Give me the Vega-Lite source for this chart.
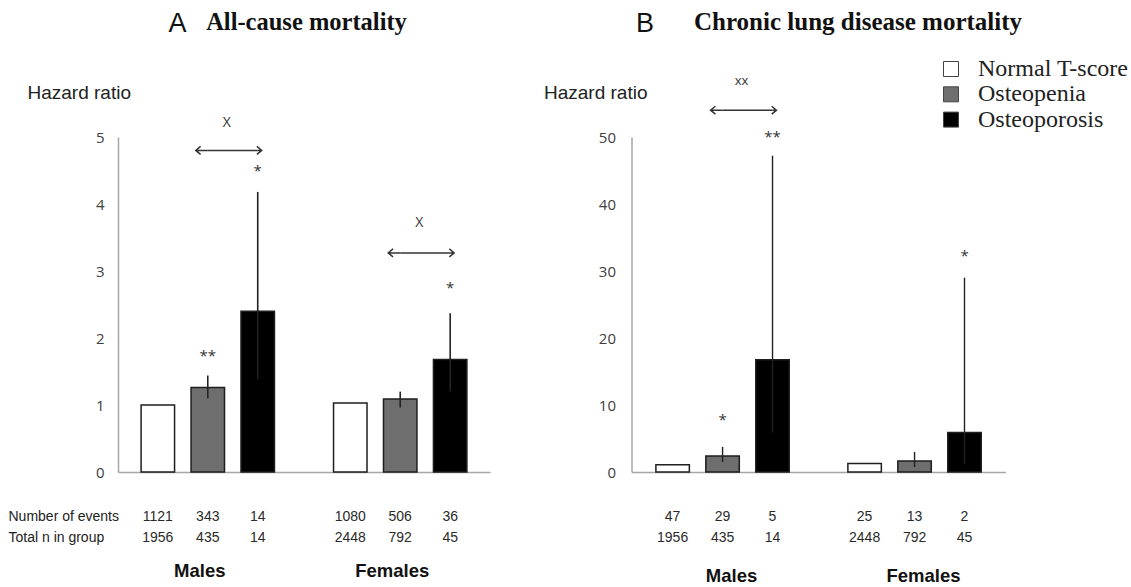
{
  "$schema": "https://vega.github.io/schema/vega-lite/v6.json",
  "padding": {"left": 8, "top": 9, "right": 0, "bottom": 0},
  "background": "#ffffff",
  "columns": 2,
  "align": "each",
  "bounds": "full",
  "spacing": {"row": 26, "column": 53.5},
  "datasets": {
    "bars": [
      {"panel": "A", "sex": "Males", "group": "Normal T-score", "hr": 1.0, "lo": 1.0, "hi": 1.0},
      {"panel": "A", "sex": "Males", "group": "Osteopenia", "hr": 1.26, "lo": 1.1, "hi": 1.44},
      {"panel": "A", "sex": "Males", "group": "Osteoporosis", "hr": 2.4, "lo": 1.38, "hi": 4.18},
      {"panel": "A", "sex": "Females", "group": "Normal T-score", "hr": 1.03, "lo": 1.03, "hi": 1.03},
      {"panel": "A", "sex": "Females", "group": "Osteopenia", "hr": 1.09, "lo": 0.96, "hi": 1.2},
      {"panel": "A", "sex": "Females", "group": "Osteoporosis", "hr": 1.68, "lo": 1.2, "hi": 2.37},
      {"panel": "B", "sex": "Males", "group": "Normal T-score", "hr": 1.1, "lo": 1.1, "hi": 1.1},
      {"panel": "B", "sex": "Males", "group": "Osteopenia", "hr": 2.4, "lo": 1.5, "hi": 3.75},
      {"panel": "B", "sex": "Males", "group": "Osteoporosis", "hr": 16.75, "lo": 5.9, "hi": 47.2},
      {"panel": "B", "sex": "Females", "group": "Normal T-score", "hr": 1.26, "lo": 1.26, "hi": 1.26},
      {"panel": "B", "sex": "Females", "group": "Osteopenia", "hr": 1.65, "lo": 0.75, "hi": 3.0},
      {"panel": "B", "sex": "Females", "group": "Osteoporosis", "hr": 5.9, "lo": 1.2, "hi": 29.0}
    ],
    "stars": [
      {"panel": "A", "sex": "Males", "group": "Osteopenia", "y": 1.77, "label": "**"},
      {"panel": "A", "sex": "Males", "group": "Osteoporosis", "y": 4.54, "label": "*"},
      {"panel": "A", "sex": "Females", "group": "Osteoporosis", "y": 2.79, "label": "*"},
      {"panel": "B", "sex": "Males", "group": "Osteopenia", "y": 8.15, "label": "*"},
      {"panel": "B", "sex": "Males", "group": "Osteoporosis", "y": 50.45, "label": "**"},
      {"panel": "B", "sex": "Females", "group": "Osteoporosis", "y": 32.75, "label": "*"}
    ],
    "arrows": [
      {"panel": "A", "sex": "Males", "group": "Osteopenia", "y": 4.8, "end": "left"},
      {"panel": "A", "sex": "Males", "group": "Osteoporosis", "y": 4.8, "end": "right"},
      {"panel": "A", "sex": "Females", "group": "Osteopenia", "y": 3.27, "end": "left"},
      {"panel": "A", "sex": "Females", "group": "Osteoporosis", "y": 3.27, "end": "right"},
      {"panel": "B", "sex": "Males", "group": "Osteopenia", "y": 54.0, "end": "left"},
      {"panel": "B", "sex": "Males", "group": "Osteoporosis", "y": 54.0, "end": "right"}
    ],
    "cmp": [
      {"panel": "A", "sex": "Males", "group": "Osteopenia", "y": 5.21, "label": "X"},
      {"panel": "A", "sex": "Females", "group": "Osteopenia", "y": 3.71, "label": "X"},
      {"panel": "B", "sex": "Males", "group": "Osteopenia", "y": 58.3, "label": "xx"}
    ],
    "table": [
      {"panel": "A", "sex": "Males", "group": "Normal T-score", "row": "Number of events", "value": 1121},
      {"panel": "A", "sex": "Males", "group": "Osteopenia", "row": "Number of events", "value": 343},
      {"panel": "A", "sex": "Males", "group": "Osteoporosis", "row": "Number of events", "value": 14},
      {"panel": "A", "sex": "Females", "group": "Normal T-score", "row": "Number of events", "value": 1080},
      {"panel": "A", "sex": "Females", "group": "Osteopenia", "row": "Number of events", "value": 506},
      {"panel": "A", "sex": "Females", "group": "Osteoporosis", "row": "Number of events", "value": 36},
      {"panel": "A", "sex": "Males", "group": "Normal T-score", "row": "Total n in group", "value": 1956},
      {"panel": "A", "sex": "Males", "group": "Osteopenia", "row": "Total n in group", "value": 435},
      {"panel": "A", "sex": "Males", "group": "Osteoporosis", "row": "Total n in group", "value": 14},
      {"panel": "A", "sex": "Females", "group": "Normal T-score", "row": "Total n in group", "value": 2448},
      {"panel": "A", "sex": "Females", "group": "Osteopenia", "row": "Total n in group", "value": 792},
      {"panel": "A", "sex": "Females", "group": "Osteoporosis", "row": "Total n in group", "value": 45},
      {"panel": "B", "sex": "Males", "group": "Normal T-score", "row": "Number of events", "value": 47},
      {"panel": "B", "sex": "Males", "group": "Osteopenia", "row": "Number of events", "value": 29},
      {"panel": "B", "sex": "Males", "group": "Osteoporosis", "row": "Number of events", "value": 5},
      {"panel": "B", "sex": "Females", "group": "Normal T-score", "row": "Number of events", "value": 25},
      {"panel": "B", "sex": "Females", "group": "Osteopenia", "row": "Number of events", "value": 13},
      {"panel": "B", "sex": "Females", "group": "Osteoporosis", "row": "Number of events", "value": 2},
      {"panel": "B", "sex": "Males", "group": "Normal T-score", "row": "Total n in group", "value": 1956},
      {"panel": "B", "sex": "Males", "group": "Osteopenia", "row": "Total n in group", "value": 435},
      {"panel": "B", "sex": "Males", "group": "Osteoporosis", "row": "Total n in group", "value": 14},
      {"panel": "B", "sex": "Females", "group": "Normal T-score", "row": "Total n in group", "value": 2448},
      {"panel": "B", "sex": "Females", "group": "Osteopenia", "row": "Total n in group", "value": 792},
      {"panel": "B", "sex": "Females", "group": "Osteoporosis", "row": "Total n in group", "value": 45}
    ]
  },
  "concat": [
    {
      "width": 372,
      "height": 335,
      "resolve": {"axis": {"x": "independent"}},
      "layer": [
        {
          "data": {"name": "bars"},
          "transform": [{"filter": "datum.panel == 'A'"}],
          "mark": {"type": "bar", "stroke": "#1e1e1e", "strokeWidth": 1.5},
          "encoding": {
            "x": {"field": "sex", "type": "nominal", "scale": {"domain": ["Males", "Females"], "paddingInner": 0.307, "paddingOuter": 0.12},
              "axis": {"orient": "bottom", "title": null, "labels": false, "ticks": false, "domain": true, "domainColor": "#a6a6a6", "domainWidth": 1.5, "grid": false}},
            "xOffset": {"field": "group", "type": "nominal", "scale": {"domain": ["Normal T-score", "Osteopenia", "Osteoporosis"], "paddingInner": 0.33, "paddingOuter": 0}},
            "y": {"field": "hr", "type": "quantitative", "scale": {"domain": [0, 5], "nice": false},
              "axis": {"values": [0, 1, 2, 3, 4, 5], "format": "d", "ticks": false, "domain": true, "domainColor": "#a6a6a6", "domainWidth": 1.5, "grid": false,
                "labelFont": "Open Sans", "labelFontSize": 15, "labelColor": "#404040", "labelPadding": 14,
                "title": "Hazard ratio", "titleFont": "Liberation Sans", "titleFontSize": 19, "titleFontWeight": "normal", "titleColor": "#222222",
                "titleAngle": 0, "titleAlign": "left", "titleBaseline": "alphabetic", "titleX": -91, "titleY": -39}},
            "color": {"field": "group", "type": "nominal", "scale": {"domain": ["Normal T-score", "Osteopenia", "Osteoporosis"], "range": ["#ffffff", "#6e6e6e", "#000000"]},
              "legend": {"title": null, "orient": "none", "legendX": 821, "legendY": -80, "symbolType": "square", "symbolSize": 225, "symbolStrokeColor": "#444444", "symbolStrokeWidth": 1,
                "labelFont": "Liberation Serif", "labelFontSize": 24, "labelColor": "#222222", "labelOffset": 15, "rowPadding": 1.3, "padding": 0}}
          }
        },
        {
          "data": {"name": "bars"},
          "transform": [{"filter": "datum.panel == 'A' && datum.group != 'Normal T-score'"}],
          "mark": {"type": "rule", "color": "#222222", "strokeWidth": 1.6},
          "encoding": {
            "x": {"field": "sex", "type": "nominal", "scale": {"domain": ["Males", "Females"]}, "axis": null},
            "xOffset": {"field": "group", "type": "nominal", "scale": {"domain": ["Normal T-score", "Osteopenia", "Osteoporosis"]}},
            "y": {"field": "lo", "type": "quantitative", "scale": {"domain": [0, 5], "nice": false}},
            "y2": {"field": "hi"}
          }
        },
        {
          "data": {"name": "arrows"},
          "transform": [{"filter": "datum.panel == 'A'"}],
          "mark": {"type": "line", "color": "#333333", "strokeWidth": 1.5},
          "encoding": {
            "x": {"field": "sex", "type": "nominal", "scale": {"domain": ["Males", "Females"]},
              "axis": {"orient": "top", "title": "All-cause mortality", "labels": false, "ticks": false, "domain": false, "grid": false,
                "titleFont": "Liberation Serif", "titleFontSize": 24.5, "titleFontWeight": "bold", "titleColor": "#111111",
                "titleX": 188, "titleY": -108, "titleAlign": "center", "titleBaseline": "alphabetic", "titleAngle": 0}},
            "xOffset": {"field": "group", "type": "nominal", "scale": {"domain": ["Normal T-score", "Osteopenia", "Osteoporosis"]}},
            "y": {"field": "y", "type": "quantitative", "scale": {"domain": [0, 5], "nice": false}},
            "detail": {"field": "sex"}
          }
        },
        {
          "data": {"name": "arrows"},
          "transform": [{"filter": "datum.panel == 'A' && datum.end == 'left'"}],
          "mark": {"type": "point", "shape": "M -1 0 L 0 0 M -0.6 -0.33 L -1 0 L -0.6 0.33", "size": 576, "filled": false, "color": "#333333", "strokeWidth": 1.5, "opacity": 1},
          "encoding": {
            "x": {"field": "sex", "type": "nominal", "scale": {"domain": ["Males", "Females"]}, "axis": null},
            "xOffset": {"field": "group", "type": "nominal", "scale": {"domain": ["Normal T-score", "Osteopenia", "Osteoporosis"]}},
            "y": {"field": "y", "type": "quantitative", "scale": {"domain": [0, 5], "nice": false}}
          }
        },
        {
          "data": {"name": "arrows"},
          "transform": [{"filter": "datum.panel == 'A' && datum.end == 'right'"}],
          "mark": {"type": "point", "shape": "M 0 0 L 0.33 0 M -0.07 -0.33 L 0.33 0 L -0.07 0.33", "size": 576, "filled": false, "color": "#333333", "strokeWidth": 1.5, "opacity": 1},
          "encoding": {
            "x": {"field": "sex", "type": "nominal", "scale": {"domain": ["Males", "Females"]}, "axis": null},
            "xOffset": {"field": "group", "type": "nominal", "scale": {"domain": ["Normal T-score", "Osteopenia", "Osteoporosis"]}},
            "y": {"field": "y", "type": "quantitative", "scale": {"domain": [0, 5], "nice": false}}
          }
        },
        {
          "data": {"name": "stars"},
          "transform": [{"filter": "datum.panel == 'A'"}],
          "mark": {"type": "text", "font": "Open Sans", "fontSize": 15, "color": "#333333", "baseline": "middle", "dy": 3},
          "encoding": {
            "x": {"field": "sex", "type": "nominal", "scale": {"domain": ["Males", "Females"]},
              "axis": {"orient": "top", "title": "A", "labels": false, "ticks": false, "domain": false, "grid": false,
                "titleFont": "Liberation Sans", "titleFontSize": 27, "titleFontWeight": "normal", "titleColor": "#111111",
                "titleX": 59, "titleY": -106, "titleAlign": "center", "titleBaseline": "alphabetic", "titleAngle": 0}},
            "xOffset": {"field": "group", "type": "nominal", "scale": {"domain": ["Normal T-score", "Osteopenia", "Osteoporosis"]}},
            "y": {"field": "y", "type": "quantitative", "scale": {"domain": [0, 5], "nice": false}},
            "text": {"field": "label"}
          }
        },
        {
          "data": {"name": "cmp"},
          "transform": [{"filter": "datum.panel == 'A'"}],
          "mark": {"type": "text", "font": "Open Sans", "fontSize": 14, "color": "#333333", "baseline": "middle", "dx": 19},
          "encoding": {
            "x": {"field": "sex", "type": "nominal", "scale": {"domain": ["Males", "Females"]}, "axis": null},
            "xOffset": {"field": "group", "type": "nominal", "scale": {"domain": ["Normal T-score", "Osteopenia", "Osteoporosis"]}},
            "y": {"field": "y", "type": "quantitative", "scale": {"domain": [0, 5], "nice": false}},
            "text": {"field": "label"}
          }
        }
      ]
    },
    {
      "width": 374,
      "height": 335,
      "resolve": {"axis": {"x": "independent"}},
      "layer": [
        {
          "data": {"name": "bars"},
          "transform": [{"filter": "datum.panel == 'B'"}],
          "mark": {"type": "bar", "stroke": "#1e1e1e", "strokeWidth": 1.5},
          "encoding": {
            "x": {"field": "sex", "type": "nominal", "scale": {"domain": ["Males", "Females"], "paddingInner": 0.306, "paddingOuter": 0.127},
              "axis": {"orient": "bottom", "title": null, "labels": false, "ticks": false, "domain": true, "domainColor": "#a6a6a6", "domainWidth": 1.5, "grid": false}},
            "xOffset": {"field": "group", "type": "nominal", "scale": {"domain": ["Normal T-score", "Osteopenia", "Osteoporosis"], "paddingInner": 0.369, "paddingOuter": 0}},
            "y": {"field": "hr", "type": "quantitative", "scale": {"domain": [0, 50], "nice": false},
              "axis": {"values": [0, 10, 20, 30, 40, 50], "format": "d", "ticks": false, "domain": true, "domainColor": "#a6a6a6", "domainWidth": 1.5, "grid": false,
                "labelFont": "Open Sans", "labelFontSize": 15, "labelColor": "#404040", "labelPadding": 16,
                "title": "Hazard ratio", "titleFont": "Liberation Sans", "titleFontSize": 19, "titleFontWeight": "normal", "titleColor": "#222222",
                "titleAngle": 0, "titleAlign": "left", "titleBaseline": "alphabetic", "titleX": -88, "titleY": -39}},
            "color": {"field": "group", "type": "nominal", "scale": {"domain": ["Normal T-score", "Osteopenia", "Osteoporosis"], "range": ["#ffffff", "#6e6e6e", "#000000"]},
              "legend": {"title": null, "orient": "none", "legendX": 821, "legendY": -80, "symbolType": "square", "symbolSize": 225, "symbolStrokeColor": "#444444", "symbolStrokeWidth": 1,
                "labelFont": "Liberation Serif", "labelFontSize": 24, "labelColor": "#222222", "labelOffset": 15, "rowPadding": 1.3, "padding": 0}}
          }
        },
        {
          "data": {"name": "bars"},
          "transform": [{"filter": "datum.panel == 'B' && datum.group != 'Normal T-score'"}],
          "mark": {"type": "rule", "color": "#222222", "strokeWidth": 1.4},
          "encoding": {
            "x": {"field": "sex", "type": "nominal", "scale": {"domain": ["Males", "Females"]}, "axis": null},
            "xOffset": {"field": "group", "type": "nominal", "scale": {"domain": ["Normal T-score", "Osteopenia", "Osteoporosis"]}},
            "y": {"field": "lo", "type": "quantitative", "scale": {"domain": [0, 50], "nice": false}},
            "y2": {"field": "hi"}
          }
        },
        {
          "data": {"name": "arrows"},
          "transform": [{"filter": "datum.panel == 'B'"}],
          "mark": {"type": "line", "color": "#333333", "strokeWidth": 1.5},
          "encoding": {
            "x": {"field": "sex", "type": "nominal", "scale": {"domain": ["Males", "Females"]},
              "axis": {"orient": "top", "title": "Chronic lung disease mortality", "labels": false, "ticks": false, "domain": false, "grid": false,
                "titleFont": "Liberation Serif", "titleFontSize": 25, "titleFontWeight": "bold", "titleColor": "#111111",
                "titleX": 226, "titleY": -108, "titleAlign": "center", "titleBaseline": "alphabetic", "titleAngle": 0}},
            "xOffset": {"field": "group", "type": "nominal", "scale": {"domain": ["Normal T-score", "Osteopenia", "Osteoporosis"]}},
            "y": {"field": "y", "type": "quantitative", "scale": {"domain": [0, 50], "nice": false}},
            "detail": {"field": "sex"}
          }
        },
        {
          "data": {"name": "arrows"},
          "transform": [{"filter": "datum.panel == 'B' && datum.end == 'left'"}],
          "mark": {"type": "point", "shape": "M -1 0 L 0 0 M -0.6 -0.33 L -1 0 L -0.6 0.33", "size": 576, "filled": false, "color": "#333333", "strokeWidth": 1.5, "opacity": 1},
          "encoding": {
            "x": {"field": "sex", "type": "nominal", "scale": {"domain": ["Males", "Females"]}, "axis": null},
            "xOffset": {"field": "group", "type": "nominal", "scale": {"domain": ["Normal T-score", "Osteopenia", "Osteoporosis"]}},
            "y": {"field": "y", "type": "quantitative", "scale": {"domain": [0, 50], "nice": false}}
          }
        },
        {
          "data": {"name": "arrows"},
          "transform": [{"filter": "datum.panel == 'B' && datum.end == 'right'"}],
          "mark": {"type": "point", "shape": "M 0 0 L 0.33 0 M -0.07 -0.33 L 0.33 0 L -0.07 0.33", "size": 576, "filled": false, "color": "#333333", "strokeWidth": 1.5, "opacity": 1},
          "encoding": {
            "x": {"field": "sex", "type": "nominal", "scale": {"domain": ["Males", "Females"]}, "axis": null},
            "xOffset": {"field": "group", "type": "nominal", "scale": {"domain": ["Normal T-score", "Osteopenia", "Osteoporosis"]}},
            "y": {"field": "y", "type": "quantitative", "scale": {"domain": [0, 50], "nice": false}}
          }
        },
        {
          "data": {"name": "stars"},
          "transform": [{"filter": "datum.panel == 'B'"}],
          "mark": {"type": "text", "font": "Open Sans", "fontSize": 15, "color": "#333333", "baseline": "middle", "dy": 3},
          "encoding": {
            "x": {"field": "sex", "type": "nominal", "scale": {"domain": ["Males", "Females"]},
              "axis": {"orient": "top", "title": "B", "labels": false, "ticks": false, "domain": false, "grid": false,
                "titleFont": "Liberation Sans", "titleFontSize": 27, "titleFontWeight": "normal", "titleColor": "#111111",
                "titleX": 13, "titleY": -106, "titleAlign": "center", "titleBaseline": "alphabetic", "titleAngle": 0}},
            "xOffset": {"field": "group", "type": "nominal", "scale": {"domain": ["Normal T-score", "Osteopenia", "Osteoporosis"]}},
            "y": {"field": "y", "type": "quantitative", "scale": {"domain": [0, 50], "nice": false}},
            "text": {"field": "label"}
          }
        },
        {
          "data": {"name": "cmp"},
          "transform": [{"filter": "datum.panel == 'B'"}],
          "mark": {"type": "text", "font": "Open Sans", "fontSize": 13, "color": "#333333", "baseline": "middle", "dx": 19},
          "encoding": {
            "x": {"field": "sex", "type": "nominal", "scale": {"domain": ["Males", "Females"]}, "axis": null},
            "xOffset": {"field": "group", "type": "nominal", "scale": {"domain": ["Normal T-score", "Osteopenia", "Osteoporosis"]}},
            "y": {"field": "y", "type": "quantitative", "scale": {"domain": [0, 50], "nice": false}},
            "text": {"field": "label"}
          }
        }
      ]
    },
    {
      "width": 372,
      "height": 42,
      "data": {"name": "table"},
      "transform": [{"filter": "datum.panel == 'A'"}],
      "mark": {"type": "text", "font": "Liberation Sans", "fontSize": 14, "color": "#2a2a2a", "baseline": "middle"},
      "encoding": {
        "x": {"field": "sex", "type": "nominal", "scale": {"domain": ["Males", "Females"], "paddingInner": 0.307, "paddingOuter": 0.12},
          "axis": {"orient": "bottom", "title": null, "domain": false, "ticks": false, "grid": false, "labelAngle": 0,
            "labelFont": "Liberation Sans", "labelFontWeight": "bold", "labelFontSize": 18.5, "labelColor": "#111111", "labelPadding": 13.5, "labelOffset": -8}},
        "xOffset": {"field": "group", "type": "nominal", "scale": {"domain": ["Normal T-score", "Osteopenia", "Osteoporosis"], "paddingInner": 0.33, "paddingOuter": 0}},
        "y": {"field": "row", "type": "nominal", "scale": {"domain": ["Number of events", "Total n in group"], "paddingInner": 0, "paddingOuter": 0},
          "axis": {"title": null, "domain": false, "ticks": false, "grid": false, "labelAlign": "left", "labelPadding": 110,
            "labelFont": "Liberation Sans", "labelFontSize": 14, "labelColor": "#222222"}},
        "text": {"field": "value", "type": "quantitative", "format": "d"}
      }
    },
    {
      "width": 374,
      "height": 42,
      "data": {"name": "table"},
      "transform": [{"filter": "datum.panel == 'B'"}],
      "mark": {"type": "text", "font": "Liberation Sans", "fontSize": 14, "color": "#2a2a2a", "baseline": "middle"},
      "encoding": {
        "x": {"field": "sex", "type": "nominal", "scale": {"domain": ["Males", "Females"], "paddingInner": 0.306, "paddingOuter": 0.127},
          "axis": {"orient": "bottom", "title": null, "domain": false, "ticks": false, "grid": false, "labelAngle": 0,
            "labelFont": "Liberation Sans", "labelFontWeight": "bold", "labelFontSize": 18.5, "labelColor": "#111111", "labelPadding": 18.5, "labelOffset": 9}},
        "xOffset": {"field": "group", "type": "nominal", "scale": {"domain": ["Normal T-score", "Osteopenia", "Osteoporosis"], "paddingInner": 0.369, "paddingOuter": 0}},
        "y": {"field": "row", "type": "nominal", "scale": {"domain": ["Number of events", "Total n in group"], "paddingInner": 0, "paddingOuter": 0}, "axis": null},
        "text": {"field": "value", "type": "quantitative", "format": "d"}
      }
    }
  ],
  "config": {
    "view": {"stroke": null},
    "axis": {"grid": false}
  }
}
